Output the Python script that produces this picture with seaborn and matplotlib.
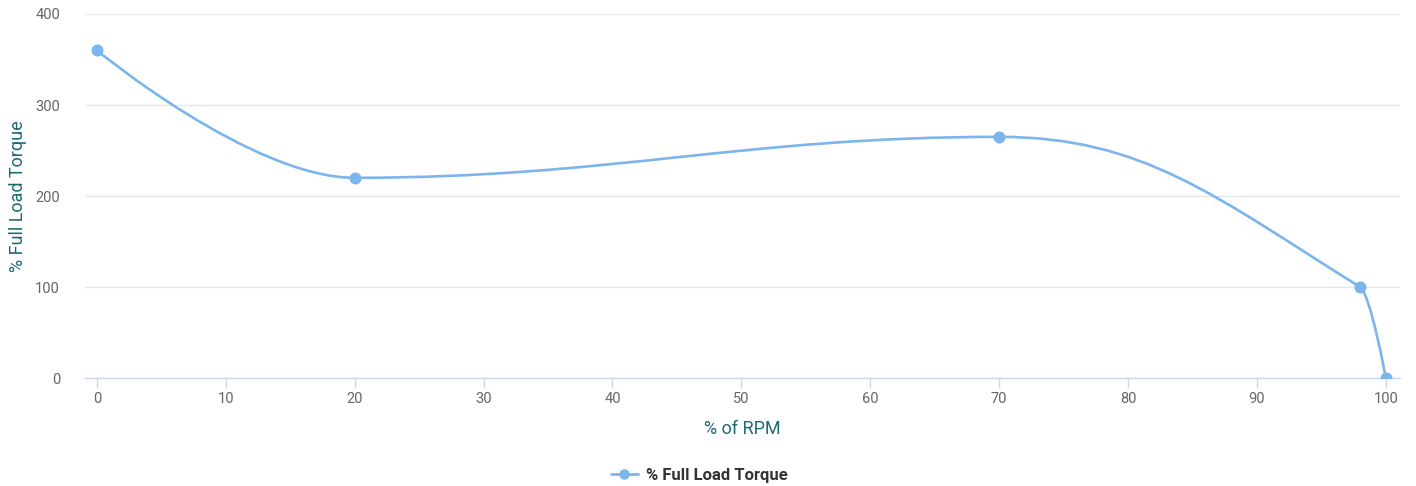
import numpy as np
import pandas as pd
import seaborn as sns
import matplotlib.pyplot as plt
from matplotlib.path import Path
from matplotlib.patches import PathPatch
from matplotlib.lines import Line2D

# data
rpm = [0, 20, 70, 98, 100]
torque = [360, 220, 265, 100, 0]
series_name = "% Full Load Torque"
x_ticks = [0, 10, 20, 30, 40, 50, 60, 70, 80, 90, 100]
y_ticks = [0, 100, 200, 300, 400]

line_color = "#7cb5ec"
title_color = "#1b6b73"


def spline_path(xs, ys, smoothing=1.5):
    # highcharts-style smooth curve through the points (bezier control points)
    verts = [(xs[0], ys[0])]
    codes = [Path.MOVETO]
    n = len(xs)
    right_prev = (xs[0], ys[0])
    for i in range(1, n):
        x, y = xs[i], ys[i]
        if i < n - 1:
            px, py = xs[i - 1], ys[i - 1]
            nx, ny = xs[i + 1], ys[i + 1]
            lcx = (smoothing * x + px) / (smoothing + 1)
            lcy = (smoothing * y + py) / (smoothing + 1)
            rcx = (smoothing * x + nx) / (smoothing + 1)
            rcy = (smoothing * y + ny) / (smoothing + 1)
            if rcx != lcx:
                corr = (rcy - lcy) * (rcx - x) / (rcx - lcx) + y - rcy
                lcy += corr
                rcy += corr
            if lcy > py and lcy > y:
                lcy = max(py, y)
                rcy = 2 * y - lcy
            elif lcy < py and lcy < y:
                lcy = min(py, y)
                rcy = 2 * y - lcy
            if rcy > ny and rcy > y:
                rcy = max(ny, y)
                lcy = 2 * y - rcy
            elif rcy < ny and rcy < y:
                rcy = min(ny, y)
                lcy = 2 * y - rcy
            left = (lcx, lcy)
            right = (rcx, rcy)
        else:
            left = (x, y)
            right = (x, y)
        verts += [right_prev, left, (x, y)]
        codes += [Path.CURVE4, Path.CURVE4, Path.CURVE4]
        right_prev = right
    return Path(verts, codes)


df = pd.DataFrame({"rpm": rpm, "torque": torque})

sns.set_theme(style="white")
plt.rcParams['font.family'] = ['Roboto', 'DejaVu Sans']

fig = plt.figure(figsize=(14.16, 4.86), dpi=100)
ax = fig.add_axes([0.060, 0.2222, 0.9287, 0.749])

ax.add_patch(PathPatch(spline_path(rpm, torque), facecolor="none",
                       edgecolor=line_color, linewidth=1.9, zorder=3,
                       capstyle="round", joinstyle="round"))
sns.scatterplot(data=df, x="rpm", y="torque", ax=ax, color=line_color,
                s=75, linewidth=0, zorder=4, legend=False)

ax.set_xlim(-0.93, 101.1)
ax.set_ylim(0, 400)
ax.set_xticks(x_ticks)
ax.set_yticks(y_ticks)
ax.grid(axis="y", color="#e6e6e6", linewidth=1)
ax.grid(axis="x", visible=False)
for s in ["top", "right", "left"]:
    ax.spines[s].set_visible(False)
ax.spines["bottom"].set_color("#ccd6eb")
ax.spines["bottom"].set_linewidth(1)
ax.spines["bottom"].set_zorder(2)
ax.tick_params(axis="x", length=7, width=1, color="#ccd6eb", labelsize=10.5,
               labelcolor="#666666", pad=3, direction="out", bottom=True)
ax.tick_params(axis="y", length=0, labelsize=10.5, labelcolor="#666666", pad=18)

ax.set_xlabel("% of RPM", color=title_color, fontsize=13, labelpad=10)
ax.set_ylabel("% Full Load Torque", color=title_color, fontsize=13, labelpad=6)

handle = Line2D([0], [0], color=line_color, linewidth=2, marker="o",
                markersize=7.5, markeredgewidth=0)
fig.legend([handle], [series_name], loc="center", bbox_to_anchor=(0.494, 0.022),
           frameon=False, prop={"weight": "bold", "size": 12}, labelcolor="#333333",
           handlelength=1.6, handletextpad=0.5)

fig.savefig("out.png", dpi=100)
